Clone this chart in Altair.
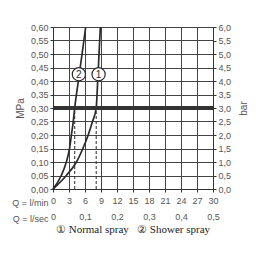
import altair as alt
import pandas as pd

# ---- data ----
p_levels = [0.0, 0.05, 0.10, 0.15, 0.20, 0.25, 0.30, 0.40, 0.50, 0.60]
normal_q = [0.0, 2.5, 4.4, 5.6, 6.6, 7.4, 8.1, 8.38, 8.63, 8.88]
shower_q = [0.0, 1.55, 2.5, 3.1, 3.45, 3.8, 4.07, 4.75, 5.45, 6.13]

dash_q = [4.07, 8.1]
dash_p_top = [0.30, 0.30]

marker_labels = ["2", "1"]
marker_q = [4.85, 8.55]
marker_p = [0.425, 0.425]

ref_pressure = [0.30]

lmin_ticks = [0, 3, 6, 9, 12, 15, 18, 21, 24, 27, 30]
lsec_ticks = [0, 0.1, 0.2, 0.3, 0.4, 0.5]
mpa_ticks = [0, 0.05, 0.10, 0.15, 0.20, 0.25, 0.30, 0.35, 0.40, 0.45, 0.50, 0.55, 0.60]
bar_ticks = [0, 0.5, 1.0, 1.5, 2.0, 2.5, 3.0, 3.5, 4.0, 4.5, 5.0, 5.5, 6.0]

legend_text = "\u2460 Normal spray\u00a0\u00a0\u00a0\u2461 Shower spray"

FONT = "Liberation Sans"
INK = "#2a2a2a"
GRID = "#444444"
LBL = "#555555"
FS = 9

# ---- tables ----
curves = pd.DataFrame(
    {
        "series": ["normal"] * len(p_levels) + ["shower"] * len(p_levels),
        "q": normal_q + shower_q,
        "p": p_levels + p_levels,
        "o": list(range(len(p_levels))) * 2,
    }
)
dashes = pd.DataFrame({"q": dash_q, "p0": [0.0, 0.0], "p1": dash_p_top})
markers = pd.DataFrame({"q": marker_q, "p": marker_p, "t": marker_labels})
ref = pd.DataFrame({"p": ref_pressure})
sec = pd.DataFrame({"qs": [0.0, 0.5], "bar": [0.0, 6.0]})

sx = alt.Scale(domain=[0, 30], nice=False, zero=False)
sy = alt.Scale(domain=[0, 0.6], nice=False, zero=False)

ax_x = alt.Axis(
    values=lmin_ticks, grid=True, format="d", title="Q = l/min",
    titleX=-5, titleY=13, titleAlign="right", titleBaseline="middle",
    titleFont=FONT, titleFontSize=FS, titleFontWeight="normal", titleColor=LBL,
    tickSize=3, labelPadding=4, labelFlush=False, labelOverlap=False,
)
ax_y = alt.Axis(
    values=mpa_ticks, grid=True,
    labelExpr="replace(format(datum.value, '.2f'), '.', ',')",
    title="MPa", titleX=-33, titleY=81, titleAngle=270,
    titleAlign="center", titleBaseline="middle",
    titleFont=FONT, titleFontSize=10, titleFontWeight="normal", titleColor=LBL,
    tickSize=3, labelPadding=2, labelFlush=False, labelOverlap=False,
)

X = alt.X("q:Q", scale=sx, axis=ax_x)
Y = alt.Y("p:Q", scale=sy, axis=ax_y)

lines = alt.Chart(curves).mark_line(
    interpolate="monotone", color=INK, strokeWidth=1.7
).encode(x=X, y=Y, detail="series:N", order="o:Q")

bold = alt.Chart(ref).mark_rule(color="#333333", strokeWidth=4).encode(y=Y)

dash = alt.Chart(dashes).mark_rule(
    color=INK, strokeWidth=1, strokeDash=[3, 2]
).encode(x=X, y=alt.Y("p0:Q", scale=sy, axis=ax_y), y2="p1:Q")

circ = alt.Chart(markers).mark_point(
    shape="circle", filled=True, fill="white", stroke=INK, strokeWidth=1.2,
    size=175, opacity=1,
).encode(x=X, y=Y)

ctext = alt.Chart(markers).mark_text(
    font=FONT, fontSize=10, color=INK, baseline="middle", align="center", dy=0.5
).encode(x=X, y=Y, text="t:N")

main = alt.layer(lines, bold, dash, circ, ctext)

secondary = alt.Chart(sec).mark_point(opacity=0).encode(
    x=alt.X(
        "qs:Q",
        scale=alt.Scale(domain=[0, 0.5], nice=False, zero=False),
        axis=alt.Axis(
            orient="bottom", offset=20, values=lsec_ticks, grid=False,
            domain=False, ticks=False, labelPadding=3,
            labelExpr="datum.value == 0 ? '0' : replace(format(datum.value, '.1f'), '.', ',')",
            title="Q = l/sec", titleX=-5, titleY=9, titleAlign="right",
            titleBaseline="middle", titleFont=FONT, titleFontSize=FS,
            titleFontWeight="normal", titleColor=LBL,
            labelFlush=False, labelOverlap=False,
        ),
    ),
    y=alt.Y(
        "bar:Q",
        scale=alt.Scale(domain=[0, 6], nice=False, zero=False),
        axis=alt.Axis(
            orient="right", values=bar_ticks, grid=False,
            labelExpr="replace(format(datum.value, '.1f'), '.', ',')",
            title="bar", titleX=30, titleY=81, titleAngle=270,
            titleAlign="center", titleBaseline="middle",
            titleFont=FONT, titleFontSize=10, titleFontWeight="normal",
            titleColor=LBL, tickSize=3, labelPadding=2,
            labelFlush=False, labelOverlap=False,
        ),
    ),
)

chart = (
    alt.layer(main, secondary)
    .resolve_scale(x="independent", y="independent")
    .properties(
        width=160,
        height=162,
        autosize=alt.AutoSizeParams(type="none"),
        padding={"left": 53, "top": 27, "right": 43, "bottom": 67},
        background="white",
        title=alt.TitleParams(
            text=legend_text, orient="bottom", anchor="middle",
            font="Liberation Serif", fontSize=11, fontWeight="normal",
            color="#222222", offset=1,
        ),
    )
    .configure_view(stroke=None)
    .configure_axis(
        labelFont=FONT, labelFontSize=FS, labelColor=LBL,
        gridColor=GRID, gridWidth=1, gridOpacity=1,
        domainColor="#333333", domainWidth=1, tickColor="#333333", tickWidth=1,
    )
)

chart.save("out.html", embed_options={"renderer": "svg", "actions": False})
